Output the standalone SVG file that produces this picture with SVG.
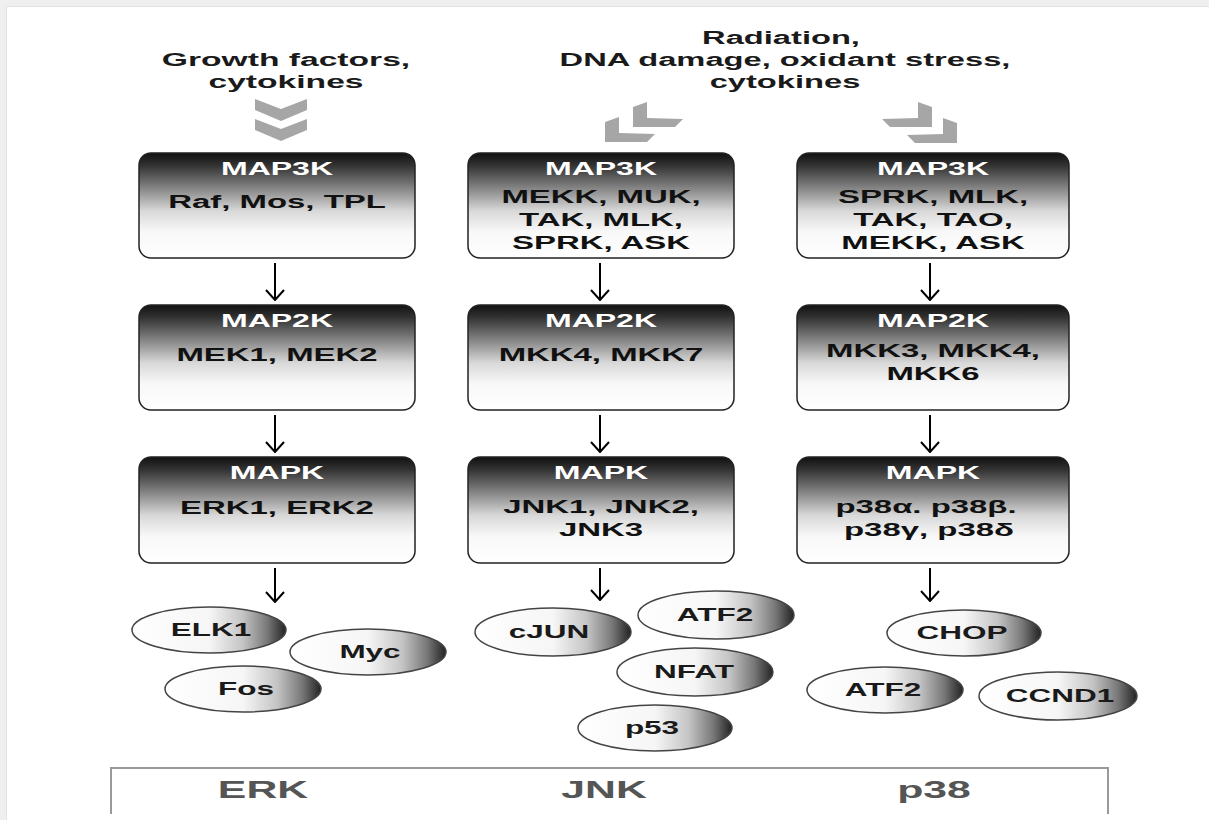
<svg xmlns="http://www.w3.org/2000/svg" width="1209" height="820" viewBox="0 0 1209 820">
<defs>
<linearGradient id="boxg" x1="0" y1="0" x2="0" y2="1">
<stop offset="0" stop-color="#111"/>
<stop offset="0.12" stop-color="#333"/>
<stop offset="0.35" stop-color="#8a8a8a"/>
<stop offset="0.55" stop-color="#d8d8d8"/>
<stop offset="0.75" stop-color="#f8f8f8"/>
<stop offset="1" stop-color="#fff"/>
</linearGradient>
<linearGradient id="ellg" x1="0" y1="0" x2="1" y2="0">
<stop offset="0" stop-color="#fff"/>
<stop offset="0.5" stop-color="#f6f6f6"/>
<stop offset="0.72" stop-color="#c4c4c4"/>
<stop offset="0.88" stop-color="#777"/>
<stop offset="1" stop-color="#222"/>
</linearGradient>
<marker id="ah" viewBox="0 0 12 20" refX="11" refY="10" markerWidth="12" markerHeight="20" markerUnits="userSpaceOnUse" orient="auto">
<path d="M1,1 L11,10 L1,19" fill="none" stroke="#000" stroke-width="2"/>
</marker>
<polygon id="chev" points="-26,0 0,10 26,0 26,11 0,22 -26,11"/>
<polygon id="lchev" points="0,5 14,0 14,16 50,17 42,25 0,25"/>
<polygon id="rchev" points="50,5 36,0 36,16 0,17 8,25 50,25"/>
</defs>
<style>
text{font-family:"Liberation Sans",Arial,sans-serif;font-weight:bold;text-anchor:middle}
.src{font-size:19px;fill:#1a1a1a}
.ttl{font-size:18px;fill:#fff}
.cnt{font-size:18.5px;fill:#111}
.ell{font-size:17.5px;fill:#1a1a1a}
.lbl{font-size:23px;fill:#555}
.box{fill:url(#boxg);stroke:#222;stroke-width:1.5}
.el{fill:url(#ellg);stroke:#444;stroke-width:1.5}
.chv{fill:#a6a6a6}
.arr{stroke:#000;stroke-width:2;fill:none;marker-end:url(#ah)}
</style>
<rect x="0" y="0" width="1209" height="820" fill="#fff"/>
<rect x="0" y="0" width="1209" height="6" fill="#efefef"/>
<rect x="0" y="0" width="6" height="820" fill="#efefef"/>
<line x1="6" y1="6.5" x2="1209" y2="6.5" stroke="#e2e2e2" stroke-width="1"/>
<line x1="6.5" y1="6" x2="6.5" y2="820" stroke="#e2e2e2" stroke-width="1"/>

<g id="stimuli">
<text class="src" transform="translate(286,66) scale(1.77,1)">Growth factors,</text>
<text class="src" transform="translate(286,88) scale(1.77,1)">cytokines</text>
<text class="src" transform="translate(781,44) scale(1.72,1)">Radiation,</text>
<text class="src" transform="translate(785,66) scale(1.72,1)">DNA damage, oxidant stress,</text>
<text class="src" transform="translate(785,88) scale(1.72,1)">cytokines</text>
</g>

<g id="chevrons" class="chv">
<use href="#chev" x="281" y="99"/>
<use href="#chev" x="281" y="119"/>
<use href="#lchev" x="633" y="102"/>
<use href="#lchev" x="605" y="117"/>
<use href="#rchev" x="882" y="102"/>
<use href="#rchev" x="907" y="118"/>
</g>

<g id="connectors">
<line class="arr" x1="275" y1="263" x2="275" y2="300"/>
<line class="arr" x1="275" y1="415" x2="275" y2="452"/>
<line class="arr" x1="275" y1="568" x2="275" y2="602"/>
<line class="arr" x1="600" y1="263" x2="600" y2="300"/>
<line class="arr" x1="600" y1="415" x2="600" y2="452"/>
<line class="arr" x1="600" y1="568" x2="600" y2="600"/>
<line class="arr" x1="930" y1="263" x2="930" y2="300"/>
<line class="arr" x1="930" y1="415" x2="930" y2="452"/>
<line class="arr" x1="930" y1="568" x2="930" y2="601"/>
</g>

<g id="erk-map3k">
<rect class="box" x="139" y="153" width="276" height="105" rx="12"/>
<text class="ttl" transform="translate(277,175) scale(1.78,1)">MAP3K</text>
<text class="cnt" transform="translate(277,208) scale(1.78,1)">Raf, Mos, TPL</text>
</g>
<g id="jnk-map3k">
<rect class="box" x="468" y="153" width="266" height="105" rx="12"/>
<text class="ttl" transform="translate(601,175) scale(1.78,1)">MAP3K</text>
<text class="cnt" transform="translate(601,203) scale(1.78,1)">MEKK, MUK,</text>
<text class="cnt" transform="translate(601,226) scale(1.78,1)">TAK, MLK,</text>
<text class="cnt" transform="translate(601,249) scale(1.78,1)">SPRK, ASK</text>
</g>
<g id="p38-map3k">
<rect class="box" x="797" y="153" width="272" height="105" rx="12"/>
<text class="ttl" transform="translate(933,175) scale(1.78,1)">MAP3K</text>
<text class="cnt" transform="translate(933,203) scale(1.78,1)">SPRK, MLK,</text>
<text class="cnt" transform="translate(933,226) scale(1.78,1)">TAK, TAO,</text>
<text class="cnt" transform="translate(933,249) scale(1.78,1)">MEKK, ASK</text>
</g>

<g id="erk-map2k">
<rect class="box" x="139" y="305" width="276" height="105" rx="12"/>
<text class="ttl" transform="translate(277,327) scale(1.78,1)">MAP2K</text>
<text class="cnt" transform="translate(277,361) scale(1.78,1)">MEK1, MEK2</text>
</g>
<g id="jnk-map2k">
<rect class="box" x="468" y="305" width="266" height="105" rx="12"/>
<text class="ttl" transform="translate(601,327) scale(1.78,1)">MAP2K</text>
<text class="cnt" transform="translate(601,361) scale(1.78,1)">MKK4, MKK7</text>
</g>
<g id="p38-map2k">
<rect class="box" x="797" y="305" width="272" height="105" rx="12"/>
<text class="ttl" transform="translate(933,327) scale(1.78,1)">MAP2K</text>
<text class="cnt" transform="translate(933,357) scale(1.78,1)">MKK3, MKK4,</text>
<text class="cnt" transform="translate(933,380) scale(1.78,1)">MKK6</text>
</g>

<g id="erk-mapk">
<rect class="box" x="139" y="457" width="276" height="106" rx="12"/>
<text class="ttl" transform="translate(277,479) scale(1.78,1)">MAPK</text>
<text class="cnt" transform="translate(277,514) scale(1.78,1)">ERK1, ERK2</text>
</g>
<g id="jnk-mapk">
<rect class="box" x="468" y="457" width="266" height="106" rx="12"/>
<text class="ttl" transform="translate(601,479) scale(1.78,1)">MAPK</text>
<text class="cnt" transform="translate(601,513) scale(1.78,1)">JNK1, JNK2,</text>
<text class="cnt" transform="translate(601,536) scale(1.78,1)">JNK3</text>
</g>
<g id="p38-mapk">
<rect class="box" x="797" y="457" width="272" height="106" rx="12"/>
<text class="ttl" transform="translate(933,479) scale(1.78,1)">MAPK</text>
<text class="cnt" transform="translate(926,513) scale(1.78,1)">p38α. p38β.</text>
<text class="cnt" transform="translate(929,536) scale(1.78,1)">p38γ, p38δ</text>
</g>

<g id="elk1"><ellipse class="el" cx="209" cy="630" rx="77" ry="23"/><text class="ell" transform="translate(211,636) scale(1.8,1)">ELK1</text></g>
<g id="myc"><ellipse class="el" cx="368" cy="652" rx="78" ry="23"/><text class="ell" transform="translate(370,658) scale(1.8,1)">Myc</text></g>
<g id="fos"><ellipse class="el" cx="243" cy="689" rx="78" ry="23"/><text class="ell" transform="translate(246,695) scale(1.8,1)">Fos</text></g>
<g id="cjun"><ellipse class="el" cx="553" cy="632" rx="78" ry="24"/><text class="ell" transform="translate(549,638) scale(1.8,1)">cJUN</text></g>
<g id="atf2-jnk"><ellipse class="el" cx="716" cy="615" rx="78" ry="24"/><text class="ell" transform="translate(715,621) scale(1.8,1)">ATF2</text></g>
<g id="nfat"><ellipse class="el" cx="695" cy="672" rx="78" ry="24"/><text class="ell" transform="translate(694,678) scale(1.8,1)">NFAT</text></g>
<g id="p53"><ellipse class="el" cx="655" cy="728" rx="77" ry="23"/><text class="ell" transform="translate(652,734) scale(1.8,1)">p53</text></g>
<g id="chop"><ellipse class="el" cx="964" cy="633" rx="77" ry="23"/><text class="ell" transform="translate(962,639) scale(1.8,1)">CHOP</text></g>
<g id="atf2-p38"><ellipse class="el" cx="885" cy="690" rx="78" ry="23"/><text class="ell" transform="translate(883,696) scale(1.8,1)">ATF2</text></g>
<g id="ccnd1"><ellipse class="el" cx="1058" cy="696" rx="79" ry="24"/><text class="ell" transform="translate(1060,702) scale(1.8,1)">CCND1</text></g>

<g id="pathway-labels">
<path d="M111,814 L111,768 L1108,768 L1108,814" fill="none" stroke="#999" stroke-width="2"/>
<text class="lbl" transform="translate(263,798) scale(1.86,1)">ERK</text>
<text class="lbl" transform="translate(604,798) scale(1.86,1)">JNK</text>
<text class="lbl" transform="translate(934,798) scale(1.86,1)">p38</text>
</g>
</svg>
